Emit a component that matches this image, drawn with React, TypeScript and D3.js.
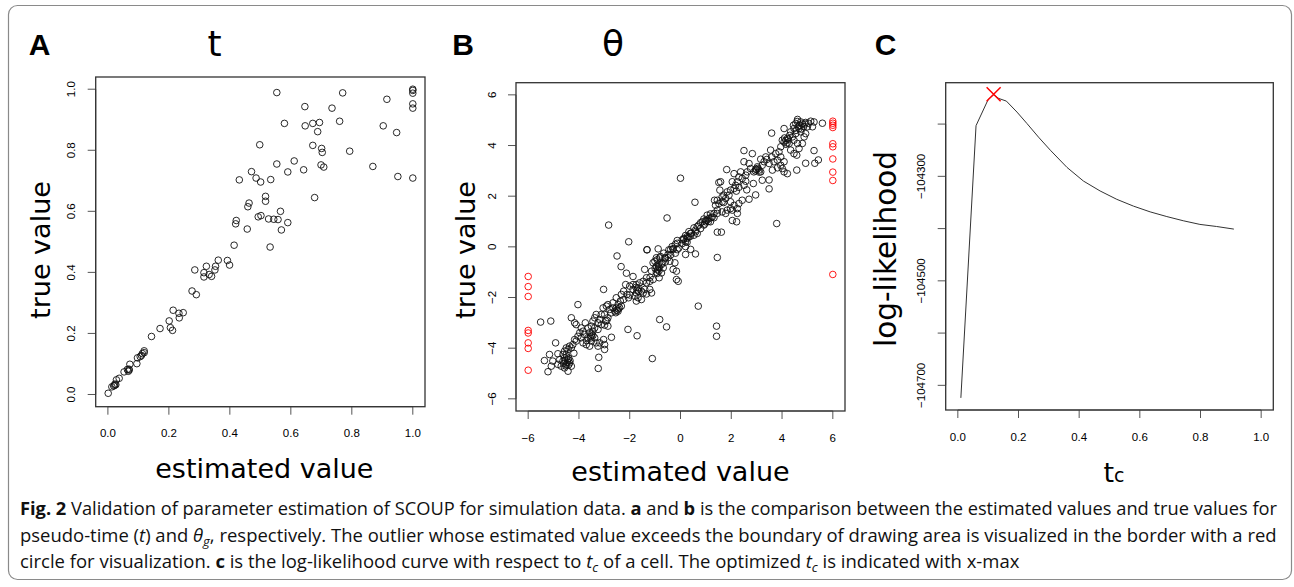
import * as d3 from "d3";
import { useEffect, useRef } from "react";

// Panel A: pseudo-time t, [estimated, true]
const tPoints: [number, number][] = [
  [0.554, 0.989], [0.77, 0.988], [1.0, 1.0], [1.0, 0.996], [1.0, 0.987], [0.915, 0.967],
  [0.646, 0.943], [1.0, 0.952], [1.0, 0.938], [0.735, 0.938], [0.76, 0.895], [0.579, 0.888],
  [0.647, 0.88], [0.672, 0.888], [0.694, 0.891], [0.903, 0.88], [0.688, 0.861], [0.947, 0.858],
  [0.498, 0.818], [0.672, 0.816], [0.701, 0.806], [0.703, 0.793], [0.793, 0.797], [0.611, 0.765],
  [0.554, 0.755], [0.699, 0.752], [0.708, 0.745], [0.869, 0.747], [0.59, 0.729], [0.642, 0.736],
  [0.471, 0.73], [0.486, 0.709], [0.501, 0.696], [0.534, 0.704], [0.431, 0.703], [0.951, 0.714],
  [1.0, 0.709], [0.678, 0.645], [0.517, 0.649], [0.517, 0.633], [0.463, 0.627], [0.459, 0.615],
  [0.566, 0.6], [0.421, 0.57], [0.419, 0.559], [0.59, 0.563], [0.502, 0.586], [0.493, 0.582],
  [0.527, 0.575], [0.544, 0.574], [0.558, 0.573], [0.569, 0.539], [0.457, 0.542], [0.414, 0.489],
  [0.532, 0.483], [0.362, 0.44], [0.392, 0.439], [0.399, 0.424], [0.285, 0.408], [0.323, 0.42],
  [0.351, 0.408], [0.353, 0.42], [0.315, 0.399], [0.315, 0.385], [0.332, 0.393], [0.34, 0.387],
  [0.276, 0.339], [0.29, 0.327], [0.214, 0.276], [0.233, 0.266], [0.247, 0.268], [0.234, 0.251],
  [0.201, 0.241], [0.171, 0.216], [0.205, 0.219], [0.212, 0.21], [0.143, 0.19], [0.119, 0.143],
  [0.119, 0.137], [0.113, 0.134], [0.106, 0.124], [0.097, 0.12], [0.095, 0.101], [0.072, 0.099],
  [0.069, 0.083], [0.067, 0.076], [0.053, 0.074], [0.037, 0.053], [0.028, 0.048], [0.023, 0.034],
  [0.019, 0.028], [0.013, 0.025], [0.001, 0.004], [0.022, 0.03], [0.026, 0.032], [0.07, 0.08],
  [0.11, 0.128], [0.064, 0.082],
];
const tTicks = [0, 0.2, 0.4, 0.6, 0.8, 1.0];
const tLimits = [0, 1];

// Panel B: theta, [estimated, true]
const thetaPoints: [number, number][] = [
  [-2.83, 0.86], [-2.04, 0.2], [-2.5, -0.36], [-2.34, -0.78], [-2.13, -1.04], [-1.87, -1.17],
  [-1.32, -0.12], [-0.88, -0.08], [-0.53, 1.14], [0.0, 2.71], [0.57, 1.76], [1.45, -0.42],
  [1.45, 0.58], [1.61, 0.58], [3.79, 0.92], [1.82, 3.05], [2.5, 3.8], [3.59, 4.49],
  [5.26, 3.8], [5.43, 3.43], [4.93, 3.3], [5.29, 3.3], [4.58, 3.03], [4.21, 2.89],
  [3.49, 2.64], [3.49, 2.29], [3.22, 2.63], [2.96, 2.05], [2.7, 1.88], [2.61, 2.25],
  [2.21, 0.99], [2.04, 1.04], [5.59, 4.88],
  [4.61, 5.03], [4.54, 4.87], [4.74, 4.93], [4.93, 4.91], [5.13, 4.96], [5.26, 4.93],
  [5.0, 4.74], [5.2, 4.74], [4.47, 4.67], [4.67, 4.67], [4.34, 4.54], [4.54, 4.47],
  [4.74, 4.54], [4.08, 4.67], [4.41, 4.34], [4.21, 4.28], [4.01, 4.21], [4.08, 4.14],
  [4.28, 4.08], [4.47, 4.21], [4.61, 4.08], [4.87, 4.34], [4.93, 4.47], [4.8, 4.08],
  [4.67, 3.88], [4.47, 3.68], [4.58, 3.62], [4.34, 3.82], [3.95, 3.95], [3.88, 3.75],
  [3.75, 3.68], [3.95, 3.55], [3.82, 3.42], [3.68, 3.36], [4.08, 3.36], [3.95, 3.22],
  [4.08, 2.96], [4.01, 3.09], [3.82, 3.12], [3.62, 3.03], [3.49, 3.29], [3.55, 3.82],
  [3.36, 3.55], [3.29, 3.36], [3.16, 3.46], [3.22, 3.22], [3.03, 3.16], [2.96, 3.07],
  [3.09, 3.03], [3.16, 2.96], [2.89, 2.96], [2.83, 3.68], [2.5, 3.36], [2.7, 3.29],
  [2.76, 3.09], [2.63, 2.96], [2.57, 2.83], [2.43, 2.7], [2.3, 2.76], [2.37, 2.96],
  [2.11, 2.89], [2.57, 2.59], [2.87, 2.5], [2.5, 2.43], [2.24, 2.57], [2.17, 2.43],
  [2.04, 2.57], [2.11, 2.3], [1.97, 2.24], [1.91, 2.04], [1.84, 2.17], [1.71, 2.04],
  [1.78, 1.91], [1.64, 1.97], [1.58, 2.57], [1.51, 2.54], [1.55, 2.24], [1.64, 1.78],
  [1.51, 1.71], [1.45, 1.84], [1.38, 1.64], [1.97, 1.78], [2.11, 1.64], [2.3, 1.71],
  [2.43, 1.84], [2.24, 1.51], [2.04, 1.45], [1.97, 1.51], [1.84, 1.45], [1.78, 1.32],
  [1.64, 1.38], [1.45, 1.32], [1.32, 1.32], [1.25, 1.18], [1.12, 1.12], [1.05, 1.25],
  [1.34, 1.84], [1.18, 0.99], [0.99, 0.99], [0.92, 0.86], [0.86, 0.99], [0.79, 0.72],
  [0.72, 0.86], [0.59, 0.66], [0.66, 0.53], [0.53, 0.46], [0.39, 0.53], [0.33, 0.39],
  [0.26, 0.33], [0.2, 0.2], [0.13, 0.33], [0.07, 0.13], [2.24, 1.32],
  [-0.2, -0.25], [-0.07, -0.05], [-0.13, 0.14], [0.07, 0.28], [0.13, 0.3], [0.2, 0.45],
  [0.26, 0.4], [0.33, 0.6], [0.39, 0.42], [0.53, 0.75], [0.66, 0.8], [0.79, 0.95],
  [0.92, 1.1], [1.05, 1.05], [1.18, 1.3], [1.32, 1.15], [1.45, 1.45], [-0.39, -0.32],
  [-0.59, -0.45], [-0.72, -0.64], [-0.86, -0.78], [-0.92, -0.51], [-0.79, -0.38], [-0.66, -0.25],
  [-0.46, -0.12], [-0.33, 0.01], [-0.2, 0.1], [-0.29, -0.1], [-0.13, 0.25], [0.2, 0.01],
  [0.26, 0.18], [0.43, 0.54], [-0.29, -0.07],
  [-1.32, -0.11], [-0.39, -0.11], [-0.13, -0.11], [-1.41, -0.89], [-1.34, -1.22], [-1.14, -0.96],
  [-1.08, -0.63], [-1.01, -0.57], [-0.95, -0.76], [-0.84, -0.83], [-0.75, -0.7], [-0.68, -0.83],
  [-0.82, -0.43], [-0.95, -0.43], [-0.62, -0.43], [-0.49, -0.43], [-0.42, -0.57], [-0.22, -0.63],
  [-0.29, -0.89], [-0.16, -0.96], [-0.09, -1.36], [-0.16, -1.29], [-0.49, -0.3], [-0.75, -1.03],
  [-0.84, -1.22], [-1.08, -1.29], [-1.21, -1.36], [-1.34, -1.42], [-1.47, -1.36], [-1.61, -1.42],
  [-1.74, -1.49], [-1.87, -1.49], [-2.0, -1.55], [-1.87, -1.68], [-1.67, -1.62], [-1.54, -1.75],
  [-1.41, -1.68], [-1.21, -1.68], [-1.14, -1.82], [-1.34, -1.86], [-1.47, -1.82], [-1.74, -1.82],
  [-1.8, -1.95], [-1.67, -2.01], [-1.54, -2.08], [-1.74, -2.14], [-2.16, -1.49], [-2.24, -1.75],
  [-2.11, -1.88], [-2.33, -1.88], [-2.05, -2.01], [-2.24, -2.08], [-2.37, -2.14], [-2.53, -2.01],
  [-2.66, -2.21], [-2.46, -2.28], [-2.33, -2.34], [-2.53, -2.41], [-2.59, -2.54], [-2.46, -2.54],
  [-2.74, -2.61], [-2.66, -2.41], [-2.79, -2.47], [-2.92, -2.34], [-3.03, -1.68], [-2.86, -2.28],
  [-3.05, -2.41], [-2.99, -2.67], [-2.86, -2.8], [-2.95, -2.93], [-3.12, -2.67], [-3.18, -2.87],
  [-3.25, -3.0], [-3.12, -3.07], [-2.99, -3.09], [-2.86, -3.13], [-3.32, -2.67], [-3.38, -2.8],
  [-3.45, -2.93], [-3.51, -3.13], [-3.38, -3.2], [-3.25, -3.26], [-3.45, -3.33], [-3.58, -3.39],
  [-3.51, -3.53], [-3.64, -3.2], [-3.75, -3.0], [-3.91, -3.2], [-4.04, -2.28], [-4.3, -2.8],
  [-4.17, -3.0], [-4.11, -3.07], [-3.78, -3.46], [-3.64, -3.59], [-3.51, -3.72], [-3.38, -3.59],
  [-3.32, -3.79], [-3.18, -3.79], [-3.25, -3.92], [-2.99, -3.86], [-2.99, -4.05], [-2.72, -3.57],
  [-3.22, -4.36], [-3.24, -4.8], [-3.84, -3.33], [-3.97, -3.39], [-3.91, -3.59], [-4.04, -3.53],
  [-4.11, -3.72], [-4.17, -3.66], [-4.24, -3.86], [-4.3, -3.99], [-4.37, -3.92], [-4.43, -4.05],
  [-4.5, -3.99], [-4.57, -4.12], [-4.5, -4.25], [-4.63, -4.25], [-4.57, -4.38], [-4.43, -4.45],
  [-4.37, -4.58], [-4.5, -4.64], [-4.63, -4.51], [-4.76, -4.45], [-4.7, -4.71], [-4.57, -4.78],
  [-4.43, -4.91], [-4.3, -4.71], [-4.83, -4.64], [-4.92, -3.79], [-4.83, -4.22], [-5.03, -4.51],
  [-5.09, -4.71], [-5.22, -4.93], [-5.36, -4.49], [-5.16, -4.25], [-5.51, -2.97], [-5.11, -2.93],
  [-3.84, -3.79], [-3.71, -3.86], [-3.58, -3.92], [-3.03, -3.66], [-0.82, -2.87], [-0.55, -3.16],
  [-1.11, -4.41], [-1.71, -3.51], [-2.07, -3.26], [0.7, -2.34], [1.42, -3.13], [1.42, -3.53],
  [0.2, -0.3], [0.59, -0.28], [0.4, -0.1],
  [-4.45, -4.55], [-4.55, -4.5], [-4.4, -4.4], [-4.6, -4.6], [-4.48, -4.35], [-4.35, -4.5],
  [-4.52, -4.7], [-4.4, -4.65], [-0.9, -0.9], [-0.95, -1.0], [-0.85, -0.95], [-1.0, -0.85],
  [-0.92, -1.05], [-0.88, -0.7], [4.7, 4.8], [4.8, 4.85], [4.65, 4.75], [4.85, 4.75],
  [4.75, 4.65], [4.55, 4.6], [4.15, 4.2], [4.2, 4.1], [4.1, 4.3], [4.25, 4.25],
  [3.05, 3.1], [3.1, 2.95], [2.95, 3.0], [3.0, 3.05], [-2.5, -2.5], [-2.45, -2.45],
  [-2.55, -2.6], [-2.4, -2.4], [-3.5, -3.45], [-3.45, -3.5], [-3.55, -3.6], [1.0, 1.05],
  [1.1, 1.0], [0.95, 0.9], [1.2, 1.15], [-1.7, -1.7], [-1.75, -1.6], [-1.65, -1.75],
  [4.9, 4.85], [5.05, 4.88], [4.6, 4.95], [4.45, 4.8], [4.3, 4.4], [4.15, 4.05],
  [3.6, 3.55], [3.4, 3.45], [2.2, 2.2], [2.3, 2.35], [1.7, 1.75], [0.6, 0.6],
  [-0.6, -0.6], [-1.2, -1.2], [-2.0, -1.9], [-2.9, -2.9], [-3.7, -3.7], [-4.2, -4.2],
];
// estimates beyond the drawing area, drawn on the border
const thetaOutliers: [number, number][] = [
  [6, 4.96], [6, 4.88], [6, 4.8], [6, 4.71], [6, 4.07], [6, 3.95], [6, 3.47], [6, 2.95],
  [6, 2.62], [6, -1.09], [-6, -1.17], [-6, -1.57], [-6, -1.96], [-6, -3.3], [-6, -3.4],
  [-6, -3.79], [-6, -4.01], [-6, -4.87],
];
const thetaTicks = [-6, -4, -2, 0, 2, 4, 6];
const thetaLimits = [-6, 6];

// Panel C: log-likelihood over t_c for one cell
const tcGrid = [
  0.01, 0.06, 0.1, 0.118, 0.135, 0.16, 0.195, 0.228, 0.266, 0.305, 0.36, 0.414, 0.469, 0.524,
  0.579, 0.634, 0.689, 0.743, 0.798, 0.853, 0.91,
];
const logLik = [
  -104724, -104203, -104153, -104144, -104151, -104156, -104177, -104199, -104225, -104250,
  -104283, -104309, -104328, -104344, -104357, -104368, -104377, -104385, -104392, -104396,
  -104401,
];
const tcBest = 0.118;
const logLikBest = -104143;
const llTicks = [-104700, -104600, -104500, -104400, -104300, -104200];
const llLabelled = [-104700, -104500, -104300];

const W = 1294;
const H = 587;

type Box = { x0: number; x1: number; y0: number; y1: number };

// R-style axis range: limits widened by 4%
const rRange = (lim: number[]) => {
  const pad = (lim[1] - lim[0]) * 0.04;
  return [lim[0] - pad, lim[1] + pad];
};

export default function App() {
  const svgRef = useRef<SVGSVGElement>(null);

  useEffect(() => {
    if (!svgRef.current) return;
    const svg = d3.select(svgRef.current);
    svg.selectAll("*").remove();

    // outer figure frame
    svg
      .append("rect")
      .attr("x", 8.5)
      .attr("y", 5.5)
      .attr("width", 1283)
      .attr("height", 574)
      .attr("rx", 9)
      .attr("fill", "#fff")
      .attr("stroke", "#8a8a8a")
      .attr("stroke-width", 1.2);

    const tickFont = "'Liberation Sans', Arial, sans-serif";
    const titleFont = "'DejaVu Sans', sans-serif";

    function frame(
      box: Box,
      x: d3.ScaleLinear<number, number>,
      y: d3.ScaleLinear<number, number>,
      xTicks: number[],
      yTicks: number[],
      xFmt: (v: number) => string,
      yFmt: (v: number) => string,
      yLabelled?: number[],
    ) {
      const g = svg.append("g");
      const tick = "#555";
      // x axis
      g.append("line")
        .attr("x1", x(xTicks[0]))
        .attr("x2", x(xTicks[xTicks.length - 1]))
        .attr("y1", box.y1)
        .attr("y2", box.y1)
        .attr("stroke", tick);
      g.selectAll(".xt")
        .data(xTicks)
        .enter()
        .append("line")
        .attr("x1", (d) => x(d))
        .attr("x2", (d) => x(d))
        .attr("y1", box.y1)
        .attr("y2", box.y1 + 8)
        .attr("stroke", tick);
      g.selectAll(".xl")
        .data(xTicks)
        .enter()
        .append("text")
        .attr("x", (d) => x(d))
        .attr("y", box.y1 + 30.5)
        .attr("text-anchor", "middle")
        .style("font-family", tickFont)
        .style("font-size", "11.5px")
        .text((d) => xFmt(d));
      // y axis
      g.append("line")
        .attr("x1", box.x0)
        .attr("x2", box.x0)
        .attr("y1", y(yTicks[0]))
        .attr("y2", y(yTicks[yTicks.length - 1]))
        .attr("stroke", tick);
      g.selectAll(".yt")
        .data(yTicks)
        .enter()
        .append("line")
        .attr("x1", box.x0)
        .attr("x2", box.x0 - 8)
        .attr("y1", (d) => y(d))
        .attr("y2", (d) => y(d))
        .attr("stroke", tick);
      g.selectAll(".yl")
        .data(yLabelled || yTicks)
        .enter()
        .append("text")
        .attr(
          "transform",
          (d) => `translate(${box.x0 - 20.5},${y(d)}) rotate(-90)`,
        )
        .attr("text-anchor", "middle")
        .style("font-family", tickFont)
        .style("font-size", "11.5px")
        .text((d) => yFmt(d));
      // plot box
      g.append("rect")
        .attr("x", box.x0)
        .attr("y", box.y0)
        .attr("width", box.x1 - box.x0)
        .attr("height", box.y1 - box.y0)
        .attr("fill", "none")
        .attr("stroke", "#333")
        .attr("stroke-width", 1.3);
    }

    function labels(
      letter: string,
      letterX: number,
      title: string,
      titleX: number,
      yTitle: string,
      yTitleX: number,
      yTitleY: number,
      yTitleSize: number,
    ) {
      svg
        .append("text")
        .attr("x", letterX)
        .attr("y", 55)
        .attr("text-anchor", "middle")
        .style("font-family", "'Liberation Sans', Arial, sans-serif")
        .style("font-weight", "bold")
        .style("font-size", "30px")
        .text(letter);
      if (title) {
        svg
          .append("text")
          .attr("x", titleX)
          .attr("y", 56)
          .attr("text-anchor", "middle")
          .style("font-family", titleFont)
          .style("font-size", "36px")
          .text(title);
      }
      svg
        .append("text")
        .attr("transform", `translate(${yTitleX},${yTitleY}) rotate(-90)`)
        .attr("text-anchor", "middle")
        .style("font-family", titleFont)
        .style("font-size", `${yTitleSize}px`)
        .text(yTitle);
    }

    // ---- Panel A ----
    const boxA: Box = { x0: 95.7, x1: 425, y0: 77, y1: 406.7 };
    const xA = d3.scaleLinear().domain(rRange(tLimits)).range([boxA.x0, boxA.x1]);
    const yA = d3.scaleLinear().domain(rRange(tLimits)).range([boxA.y1, boxA.y0]);
    frame(boxA, xA, yA, tTicks, tTicks, d3.format(".1f"), d3.format(".1f"));
    svg
      .append("g")
      .selectAll("circle")
      .data(tPoints)
      .enter()
      .append("circle")
      .attr("cx", (d) => xA(d[0]))
      .attr("cy", (d) => yA(d[1]))
      .attr("r", 3.3)
      .attr("fill", "none")
      .attr("stroke", "#111")
      .attr("stroke-width", 0.9);
    labels("A", 39.5, "t", 214.5, "true value", 50, 250, 27);
    svg
      .append("text")
      .attr("x", (boxA.x0 + boxA.x1) / 2 + 4)
      .attr("y", 478)
      .attr("text-anchor", "middle")
      .style("font-family", titleFont)
      .style("font-size", "27px")
      .text("estimated value");

    // ---- Panel B ----
    const boxB: Box = { x0: 516, x1: 845, y0: 82.7, y1: 411 };
    const xB = d3.scaleLinear().domain(rRange(thetaLimits)).range([boxB.x0, boxB.x1]);
    const yB = d3.scaleLinear().domain(rRange(thetaLimits)).range([boxB.y1, boxB.y0]);
    frame(boxB, xB, yB, thetaTicks, thetaTicks, d3.format("d"), d3.format("d"));
    svg
      .append("g")
      .selectAll("circle")
      .data(thetaPoints)
      .enter()
      .append("circle")
      .attr("cx", (d) => xB(d[0]))
      .attr("cy", (d) => yB(d[1]))
      .attr("r", 3.3)
      .attr("fill", "none")
      .attr("stroke", "#111")
      .attr("stroke-width", 0.9);
    svg
      .append("g")
      .selectAll("circle")
      .data(thetaOutliers)
      .enter()
      .append("circle")
      .attr("cx", (d) => xB(d[0]))
      .attr("cy", (d) => yB(d[1]))
      .attr("r", 3.3)
      .attr("fill", "none")
      .attr("stroke", "#f00")
      .attr("stroke-width", 0.9);
    labels("B", 463, "θ", 613, "true value", 475, 250, 27);
    svg
      .append("text")
      .attr("x", (boxB.x0 + boxB.x1) / 2)
      .attr("y", 481)
      .attr("text-anchor", "middle")
      .style("font-family", titleFont)
      .style("font-size", "27px")
      .text("estimated value");

    // ---- Panel C ----
    const boxC: Box = { x0: 945.7, x1: 1273.3, y0: 82.7, y1: 410 };
    const xC = d3.scaleLinear().domain(rRange(tLimits)).range([boxC.x0, boxC.x1]);
    const llExtent = d3.extent(logLik) as [number, number];
    const yC = d3.scaleLinear().domain(rRange(llExtent)).range([boxC.y1, boxC.y0]);
    frame(boxC, xC, yC, tTicks, llTicks, d3.format(".1f"), d3.format("d"), llLabelled);
    const line = d3
      .line<number>()
      .x((d) => xC(d))
      .y((_, i) => yC(logLik[i]));
    svg
      .append("path")
      .datum(tcGrid)
      .attr("d", line)
      .attr("fill", "none")
      .attr("stroke", "#333")
      .attr("stroke-width", 1);
    const s = 7;
    const mx = xC(tcBest);
    const my = yC(logLikBest);
    svg
      .append("path")
      .attr("d", `M${mx - s},${my - s}L${mx + s},${my + s}M${mx - s},${my + s}L${mx + s},${my - s}`)
      .attr("stroke", "#f00")
      .attr("stroke-width", 1.5);
    labels("C", 885.5, "", 0, "log-likelihood", 896, 249, 29.5);
    const tcLabel = svg
      .append("text")
      .attr("x", 1114)
      .attr("y", 482)
      .attr("text-anchor", "middle")
      .style("font-family", titleFont)
      .style("font-size", "27px");
    tcLabel.append("tspan").text("t");
    tcLabel.append("tspan").style("font-size", "19px").text("c");

    // ---- caption: each line squeezed horizontally to the reference width ----
    const cap = svg
      .append("g")
      .style("font-family", "'Open Sans', sans-serif")
      .style("font-size", "18.5px")
      .attr("fill", "#111");
    const lines: { y: number; len: number; parts: [string, string][] }[] = [
      {
        y: 515,
        len: 1258,
        parts: [
          ["b", "Fig. 2"],
          ["", " Validation of parameter estimation of SCOUP for simulation data. "],
          ["b", "a"],
          ["", " and "],
          ["b", "b"],
          ["", " is the comparison between the estimated values and true values for"],
        ],
      },
      {
        y: 542,
        len: 1258,
        parts: [
          ["", "pseudo-time ("],
          ["i", "t"],
          ["", ") and "],
          ["i", "θ"],
          ["sub", "g"],
          ["", ", respectively. The outlier whose estimated value exceeds the boundary of drawing area is visualized in the border with a red"],
        ],
      },
      {
        y: 568,
        len: 1000,
        parts: [
          ["", "circle for visualization. "],
          ["b", "c"],
          ["", " is the log-likelihood curve with respect to "],
          ["i", "t"],
          ["sub", "c"],
          ["", " of a cell. The optimized "],
          ["i", "t"],
          ["sub", "c"],
          ["", " is indicated with x-max"],
        ],
      },
    ];
    lines.forEach((ln) => {
      const t = cap.append("text").attr("x", 0).attr("y", 0);
      let shifted = false;
      ln.parts.forEach(([k, str]) => {
        const sp = t.append("tspan").text(str);
        if (k === "b") sp.style("font-weight", "bold");
        if (k === "i") sp.style("font-style", "italic");
        if (k === "sub") {
          sp.style("font-style", "italic").style("font-size", "13px").attr("dy", 4);
          shifted = true;
        } else if (shifted) {
          sp.attr("dy", -4);
          shifted = false;
        }
      });
      const natural = (t.node() as SVGTextElement).getComputedTextLength() || ln.len;
      t.attr("transform", `translate(20,${ln.y}) scale(${ln.len / natural},1)`);
    });
  }, []);

  return (
    <svg
      ref={svgRef}
      width={W}
      height={H}
      style={{ position: "absolute", left: 0, top: 0, background: "#fff" }}
    />
  );
}
